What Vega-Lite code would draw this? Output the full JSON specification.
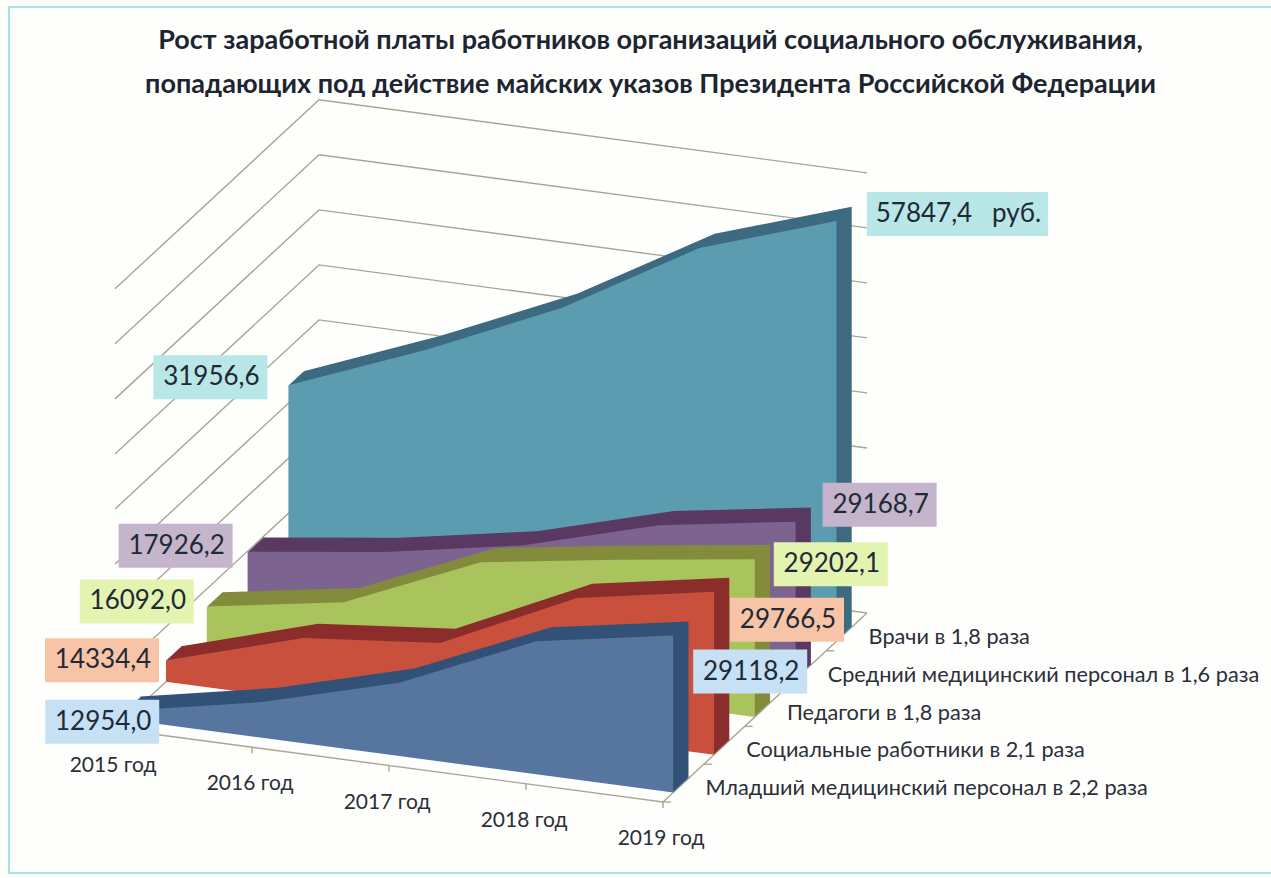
{
"$schema":"https://vega.github.io/schema/vega-lite/v6.json",
"width":1271,"height":878,"padding":0,"autosize":{"type":"none"},
"background":"#fefefd",
"view":{"stroke":null},
"title":{"text":["Рост заработной платы работников организаций социального обслуживания,","попадающих под действие майских указов Президента Российской Федерации"],"anchor":"middle","dx":15,"offset":-99,"baseline":"top","font":"Lato","fontWeight":"bold","fontSize":27,"lineHeight":44,"color":"#1d2530"},
"params":[{"name":"seriesOrder","value":["Младший медицинский персонал в 2,2 раза","Социальные работники в 2,1 раза","Педагоги в 1,8 раза","Средний медицинский персонал в 1,6 раза","Врачи в 1,8 раза"]}],
"datasets":{
"salaries":[
{"series":"Врачи в 1,8 раза","year":2015,"value":31956.6},
{"series":"Врачи в 1,8 раза","year":2016,"value":37800},
{"series":"Врачи в 1,8 раза","year":2017,"value":44400},
{"series":"Врачи в 1,8 раза","year":2018,"value":52900},
{"series":"Врачи в 1,8 раза","year":2019,"value":57847.4},
{"series":"Средний медицинский персонал в 1,6 раза","year":2015,"value":17926.2},
{"series":"Средний медицинский персонал в 1,6 раза","year":2016,"value":19900},
{"series":"Средний медицинский персонал в 1,6 раза","year":2017,"value":22600},
{"series":"Средний медицинский персонал в 1,6 раза","year":2018,"value":26800},
{"series":"Средний медицинский персонал в 1,6 раза","year":2019,"value":29168.7},
{"series":"Педагоги в 1,8 раза","year":2015,"value":16092.0},
{"series":"Педагоги в 1,8 раза","year":2016,"value":18540},
{"series":"Педагоги в 1,8 раза","year":2017,"value":24900},
{"series":"Педагоги в 1,8 раза","year":2018,"value":27150},
{"series":"Педагоги в 1,8 раза","year":2019,"value":29202.1},
{"series":"Социальные работники в 2,1 раза","year":2015,"value":14334.4},
{"series":"Социальные работники в 2,1 раза","year":2016,"value":18760},
{"series":"Социальные работники в 2,1 раза","year":2017,"value":20200},
{"series":"Социальные работники в 2,1 раза","year":2018,"value":27100},
{"series":"Социальные работники в 2,1 раза","year":2019,"value":29766.5},
{"series":"Младший медицинский персонал в 2,2 раза","year":2015,"value":12954.0},
{"series":"Младший медицинский персонал в 2,2 раза","year":2016,"value":15900},
{"series":"Младший медицинский персонал в 2,2 раза","year":2017,"value":20000},
{"series":"Младший медицинский персонал в 2,2 раза","year":2018,"value":26500},
{"series":"Младший медицинский персонал в 2,2 раза","year":2019,"value":29118.2}
],
"gridValues":[{"grid":12000},{"grid":18000},{"grid":24000},{"grid":30000},{"grid":36000},{"grid":42000},{"grid":48000},{"grid":54000},{"grid":60000}],
"years":[{"yearLabel":"2015 год","year":2015},{"yearLabel":"2016 год","year":2016},{"yearLabel":"2017 год","year":2017},{"yearLabel":"2018 год","year":2018},{"yearLabel":"2019 год","year":2019}],
"seriesNames":[{"series":"Младший медицинский персонал в 2,2 раза"},{"series":"Социальные работники в 2,1 раза"},{"series":"Педагоги в 1,8 раза"},{"series":"Средний медицинский персонал в 1,6 раза"},{"series":"Врачи в 1,8 раза"}]
},
"layer":[
{"data":{"values":[{"frame":"рамка"}]},
 "mark":{"type":"rect","fill":null,"stroke":"#a9e0ea","strokeWidth":2},
 "encoding":{"x":{"datum":9,"type":"quantitative","scale":{"domain":[0,1271],"nice":false,"zero":false},"axis":null},"x2":{"datum":1290},"y":{"datum":7,"type":"quantitative","scale":{"domain":[878,0],"nice":false,"zero":false},"axis":null},"y2":{"datum":873}}},
{"data":{"name":"gridValues"},
 "transform":[
  {"calculate":"[[0,0],[0,1],[1,1]]","as":"vertex"},
  {"flatten":["vertex"]},
  {"calculate":"115+548*datum.vertex[0]+204*datum.vertex[1]","as":"sx"},
  {"calculate":"729+73*datum.vertex[0]-189*datum.vertex[1]-(datum.grid-12000)*0.00917","as":"sy"}],
 "mark":{"type":"line","stroke":"#a8a693","strokeWidth":1.4},
 "encoding":{"x":{"field":"sx","type":"quantitative","scale":{"domain":[0,1271],"nice":false,"zero":false},"axis":null},"y":{"field":"sy","type":"quantitative","scale":{"domain":[878,0],"nice":false,"zero":false},"axis":null},"detail":{"field":"grid"}}},
{"data":{"values":[{"edge":"пол"}]},
 "transform":[
  {"calculate":"[[0,0],[1,0],[1,1]]","as":"vertex"},
  {"flatten":["vertex"]},
  {"calculate":"115+548*datum.vertex[0]+204*datum.vertex[1]","as":"sx"},
  {"calculate":"729+73*datum.vertex[0]-189*datum.vertex[1]","as":"sy"}],
 "mark":{"type":"line","stroke":"#a8a693","strokeWidth":1.4},
 "encoding":{"x":{"field":"sx","type":"quantitative","axis":null},"y":{"field":"sy","type":"quantitative","axis":null}}},
{"data":{"name":"years"},
 "transform":[
  {"calculate":"115+548*(datum.year-2015)/4","as":"sx"},
  {"calculate":"729+73*(datum.year-2015)/4","as":"sy"},
  {"calculate":"datum.sy+6","as":"sy2"}],
 "mark":{"type":"rule","stroke":"#a8a693","strokeWidth":1.4},
 "encoding":{"x":{"field":"sx","type":"quantitative","axis":null},"y":{"field":"sy","type":"quantitative","axis":null},"y2":{"field":"sy2"}}},
{"data":{"name":"seriesNames"},
 "transform":[
  {"calculate":"indexof(seriesOrder,datum.series)*0.2","as":"d"},
  {"calculate":"663+204*datum.d","as":"sx"},
  {"calculate":"802-189*datum.d","as":"sy"},
  {"calculate":"datum.sx+8","as":"sx2"}],
 "mark":{"type":"rule","stroke":"#a8a693","strokeWidth":1.4},
 "encoding":{"x":{"field":"sx","type":"quantitative","axis":null},"x2":{"field":"sx2"},"y":{"field":"sy","type":"quantitative","axis":null}}},
{"data":{"name":"salaries"},
 "transform":[
  {"calculate":"(datum.year-2015)/4","as":"t"},
  {"calculate":"0.05+0.2*indexof(seriesOrder,datum.series)","as":"d"},
  {"calculate":"[1,0.9375,0.875,0.8125,0.75,0.6875,0.625,0.5625,0.5,0.4375,0.375,0.3125,0.25,0.1875,0.125,0.0625,0]","as":"extrude"},
  {"flatten":["extrude"]},
  {"calculate":"115+548*datum.t+204*datum.d+15.3*datum.extrude","as":"sx"},
  {"calculate":"729+73*datum.t-189*datum.d-14.2*datum.extrude","as":"base"},
  {"calculate":"datum.base-(datum.value-12000)*0.00917","as":"sy"},
  {"calculate":"datum.series+(datum.extrude==0?' грань':' торец')","as":"face"},
  {"calculate":"datum.face+datum.extrude","as":"sweep"}],
 "mark":{"type":"area","orient":"vertical","interpolate":"linear","opacity":1},
 "encoding":{
  "x":{"field":"sx","type":"quantitative","axis":null},
  "y":{"field":"sy","type":"quantitative","axis":null},
  "y2":{"field":"base"},
  "detail":{"field":"sweep"},
  "color":{"field":"face","type":"nominal","legend":null,"scale":{
   "domain":["Врачи в 1,8 раза грань","Врачи в 1,8 раза торец","Средний медицинский персонал в 1,6 раза грань","Средний медицинский персонал в 1,6 раза торец","Педагоги в 1,8 раза грань","Педагоги в 1,8 раза торец","Социальные работники в 2,1 раза грань","Социальные работники в 2,1 раза торец","Младший медицинский персонал в 2,2 раза грань","Младший медицинский персонал в 2,2 раза торец"],
   "range":["#5b9cb0","#3e6b80","#7d6390","#5a3a62","#a9c45c","#838c3c","#c9503c","#8c2e2c","#56769f","#335278"]}}}},
{"data":{"name":"salaries"},
 "transform":[
  {"filter":"datum.year==2015||datum.year==2019"},
  {"calculate":"(datum.year-2015)/4","as":"t"},
  {"calculate":"indexof(seriesOrder,datum.series)","as":"band"},
  {"calculate":"0.05+0.2*datum.band","as":"d"},
  {"calculate":"115+548*datum.t+204*datum.d+(datum.year==2015?[-23,-64,-70,-72,-78]:[77,73,76,84,121])[datum.band]","as":"lx"},
  {"calculate":"729+73*datum.t-189*datum.d-(datum.value-12000)*0.00917+(datum.year==2015?[11,0,-5,-6,-8]:[36,28,5,-17,-7])[datum.band]","as":"ly"},
  {"calculate":"(datum.value==57847.4?181:114)/2","as":"hw"},
  {"calculate":"datum.lx-datum.hw","as":"sx"},
  {"calculate":"datum.lx+datum.hw","as":"sx2"},
  {"calculate":"datum.ly-22","as":"sy"},
  {"calculate":"datum.ly+22","as":"sy2"}],
 "mark":{"type":"rect"},
 "encoding":{
  "x":{"field":"sx","type":"quantitative","axis":null},"x2":{"field":"sx2"},
  "y":{"field":"sy","type":"quantitative","axis":null},"y2":{"field":"sy2"},
  "fill":{"field":"series","type":"nominal","legend":null,"scale":{"domain":["Врачи в 1,8 раза","Средний медицинский персонал в 1,6 раза","Педагоги в 1,8 раза","Социальные работники в 2,1 раза","Младший медицинский персонал в 2,2 раза"],"range":["#b9e6e6","#c5b5cc","#e3f3b0","#f8c4a8","#c6e0f5"]}}}},
{"data":{"name":"salaries"},
 "transform":[
  {"filter":"datum.year==2015||datum.year==2019"},
  {"calculate":"(datum.year-2015)/4","as":"t"},
  {"calculate":"indexof(seriesOrder,datum.series)","as":"band"},
  {"calculate":"0.05+0.2*datum.band","as":"d"},
  {"calculate":"115+548*datum.t+204*datum.d+(datum.year==2015?[-23,-64,-70,-72,-78]:[77,73,76,84,121])[datum.band]+1","as":"sx"},
  {"calculate":"729+73*datum.t-189*datum.d-(datum.value-12000)*0.00917+(datum.year==2015?[11,0,-5,-6,-8]:[36,28,5,-17,-7])[datum.band]","as":"sy"},
  {"calculate":"replace(format(datum.value,'.1f'),'.',',')+(datum.value==57847.4?'\u00a0\u00a0\u00a0руб.':'')","as":"labelText"}],
 "mark":{"type":"text","font":"Lato","fontSize":26,"color":"#1f2a35","align":"center","baseline":"middle"},
 "encoding":{"x":{"field":"sx","type":"quantitative","axis":null},"y":{"field":"sy","type":"quantitative","axis":null},"text":{"field":"labelText"}}},
{"data":{"name":"years"},
 "transform":[
  {"calculate":"113+548*(datum.year-2015)/4","as":"sx"},
  {"calculate":"729+73*(datum.year-2015)/4+37","as":"sy"}],
 "mark":{"type":"text","font":"Lato","fontSize":21,"color":"#2a3038","align":"center","baseline":"middle"},
 "encoding":{"x":{"field":"sx","type":"quantitative","axis":null},"y":{"field":"sy","type":"quantitative","axis":null},"text":{"field":"yearLabel"}}},
{"data":{"name":"seriesNames"},
 "transform":[
  {"calculate":"0.1+0.2*indexof(seriesOrder,datum.series)","as":"d"},
  {"calculate":"663+204*datum.d+22","as":"sx"},
  {"calculate":"802-189*datum.d+5","as":"sy"}],
 "mark":{"type":"text","font":"Lato","fontSize":21.7,"color":"#2a3038","align":"left","baseline":"middle"},
 "encoding":{"x":{"field":"sx","type":"quantitative","axis":null},"y":{"field":"sy","type":"quantitative","axis":null},"text":{"field":"series"}}}
]
}
